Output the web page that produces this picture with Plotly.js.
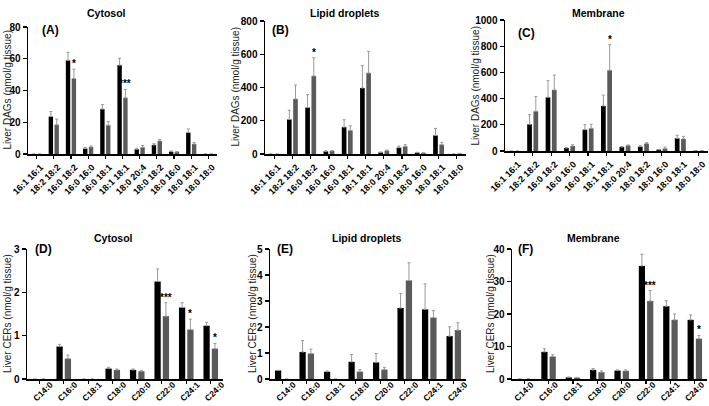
<!DOCTYPE html>
<html>
<head>
<meta charset="utf-8">
<script src="https://cdn.plot.ly/plotly-3.0.1.min.js"></script>
<style>html,body{margin:0;padding:0;background:#fff;}#chart{width:709px;height:406px;}</style>
</head>
<body>
<div id="chart"></div>
<script>
// ---------- DATA ----------
const catsDAG = ['16:1 16:1','18:2 18:2','16:0 18:2','16:0 16:0','16:0 18:1','18:1 18:1','18:0 20:4','18:0 18:2','18:0 16:0','18:0 18:1','18:0 18:0'];
const catsCER = ['C14:0','C16:0','C18:1','C18:0','C20:0','C22:0','C24:1','C24:0'];

// (A) Cytosol DAGs
const aBlack    = [0, 23.6, 59, 3.4, 28.3, 56, 3, 5.7, 1.5, 13.5, 0];
const aBlackSem = [0, 3.2, 5, 0.8, 2.9, 4.3, 0.6, 0.8, 0.4, 2.3, 0];
const aGrey     = [0, 18.4, 47.5, 4.4, 18.1, 35.4, 4.2, 8.2, 1.3, 6.3, 0];
const aGreySem  = [0, 3.6, 5.9, 0.6, 2.4, 5.3, 1.1, 1.0, 0.3, 0.9, 0];
const aSig      = ['', '', '*', '', '', '***', '', '', '', '', ''];

// (B) Lipid droplets DAGs
const bBlack    = [0, 208, 279, 16, 162, 397, 10, 38, 8, 112, 0];
const bBlackSem = [0, 55, 78, 4, 44, 136, 2, 10, 2, 42, 0];
const bGrey     = [0, 331, 469, 18, 142, 487, 20, 46, 6, 56, 3];
const bGreySem  = [0, 84, 110, 3, 28, 130, 4, 10, 2, 14, 1];
const bSig      = ['', '', '*', '', '', '', '', '', '', '', ''];

// (C) Membrane DAGs
const cBlack    = [0, 204, 410, 23, 163, 344, 31, 33, 10, 97, 2];
const cBlackSem = [0, 73, 127, 4, 38, 83, 4, 8, 2, 23, 1];
const cGrey     = [0, 303, 466, 38, 173, 616, 41, 56, 18, 92, 2];
const cGreySem  = [0, 112, 114, 10, 31, 196, 5, 8, 12, 20, 1];
const cSig      = ['', '', '', '', '', '*', '', '', '', '', ''];

// (D) Cytosol CERs
const dBlack    = [0, 0.75, 0, 0.24, 0.21, 2.25, 1.65, 1.23];
const dBlackSem = [0, 0.05, 0, 0.03, 0.02, 0.29, 0.11, 0.08];
const dGrey     = [0, 0.47, 0, 0.21, 0.18, 1.45, 1.14, 0.70];
const dGreySem  = [0, 0.08, 0, 0.02, 0.02, 0.31, 0.24, 0.12];
const dSig      = ['', '', '', '', '', '***', '*', '*'];

// (E) Lipid droplets CERs
const eBlack    = [0.33, 1.04, 0.28, 0.66, 0.64, 2.73, 2.68, 1.65];
const eBlackSem = [0, 0.44, 0.03, 0.28, 0.34, 0.56, 0.98, 0.36];
const eGrey     = [0, 0.98, 0, 0.28, 0.36, 3.79, 2.36, 1.88];
const eGreySem  = [0, 0.17, 0, 0.08, 0.09, 0.68, 0.27, 0.28];
const eSig      = ['', '', '', '', '', '', '', ''];

// (F) Membrane CERs
const fBlack    = [0, 8.35, 0.5, 2.8, 2.6, 34.8, 22.4, 18.2];
const fBlackSem = [0, 0.95, 0.1, 0.4, 0.2, 3.6, 1.7, 1.5];
const fGrey     = [0, 6.9, 0.4, 2.1, 2.5, 24, 18.2, 12.4];
const fGreySem  = [0, 0.6, 0.1, 0.4, 0.3, 3.2, 1.8, 1.0];
const fSig      = ['', '', '', '', '', '***', '', '*'];

const yTitleDAG = 'Liver DAGs (nmol/g tissue)';
const yTitleCER = 'Liver CERs (nmol/g tissue)';

// ---------- LAYOUT ----------
const W = 709, H = 406;
const BARGAP = 0.32, GROUPGAP = 0.25;
const FONT = 'Liberation Sans, Arial, sans-serif';

const panels = [
  {cats:catsDAG, b:aBlack, bs:aBlackSem, g:aGrey, gs:aGreySem, sig:aSig, x0:28, x1:217, yT:27, yB:154, range:[0,80], dtick:20,
   title:'Cytosol', tx:107, ty:13, label:'(A)', lx:40, ly:30, ytitle:yTitleDAG, ytx:7, lshift:4, lstand:0, lsize:9},
  {cats:catsDAG, b:bBlack, bs:bBlackSem, g:bGrey, gs:bGreySem, sig:bSig, x0:265, x1:466, yT:21, yB:154, range:[0,800], dtick:200,
   title:'Lipid droplets', tx:345, ty:13, label:'(B)', lx:270, ly:30, ytitle:yTitleDAG, ytx:235, lshift:4, lstand:0, lsize:9},
  {cats:catsDAG, b:cBlack, bs:cBlackSem, g:cGrey, gs:cGreySem, sig:cSig, x0:505, x1:708, yT:20, yB:151, range:[0,1000], dtick:200,
   title:'Membrane', tx:598, ty:13, label:'(C)', lx:516, ly:33, ytitle:yTitleDAG, ytx:475, lshift:4, lstand:0, lsize:9},
  {cats:catsCER, b:dBlack, bs:dBlackSem, g:dGrey, gs:dGreySem, sig:dSig, x0:27, x1:223, yT:249, yB:379, range:[0,3], dtick:1,
   title:'Cytosol', tx:113, ty:238, label:'(D)', lx:33, ly:249, ytitle:yTitleCER, ytx:7, lshift:11, lstand:-7, lsize:8.5},
  {cats:catsCER, b:eBlack, bs:eBlackSem, g:eGrey, gs:eGreySem, sig:eSig, x0:270, x1:466, yT:249, yB:379, range:[0,5], dtick:1,
   title:'Lipid droplets', tx:367, ty:238, label:'(E)', lx:275, ly:249, ytitle:yTitleCER, ytx:252, lshift:11, lstand:-7, lsize:8.5},
  {cats:catsCER, b:fBlack, bs:fBlackSem, g:fGrey, gs:fGreySem, sig:fSig, x0:512, x1:707, yT:249, yB:379, range:[0,40], dtick:10,
   title:'Membrane', tx:593, ty:238, label:'(F)', lx:516, ly:249, ytitle:yTitleCER, ytx:490, lshift:7, lstand:-7, lsize:8.5}
];

const traces = [];
const layout = {
  width: W, height: H,
  margin: {l:0, r:0, t:0, b:0},
  paper_bgcolor: '#fff', plot_bgcolor: '#fff',
  showlegend: false,
  barmode: 'group', bargap: BARGAP, bargroupgap: GROUPGAP,
  font: {family: FONT, color: '#000'},
  annotations: []
};

panels.forEach((p, i) => {
  const n = i + 1;
  const xa = 'x' + (n === 1 ? '' : n), ya = 'y' + (n === 1 ? '' : n);
  const xk = 'xaxis' + (n === 1 ? '' : n), yk = 'yaxis' + (n === 1 ? '' : n);
  const err = (arr) => ({type:'data', symmetric:false, array:arr, arrayminus:arr.map(() => 0),
                         color:'#9a9a9a', thickness:1, width:1.5});
  traces.push({type:'bar', x:p.cats, y:p.b, xaxis:xa, yaxis:ya, marker:{color:'#000'}, error_y:err(p.bs), hoverinfo:'none'});
  traces.push({type:'bar', x:p.cats, y:p.g, xaxis:xa, yaxis:ya, marker:{color:'#5a5a5a'}, error_y:err(p.gs), hoverinfo:'none'});

  layout[xk] = {
    domain:[p.x0 / W, p.x1 / W], anchor: ya, type:'category',
    range:[-0.5, p.cats.length - 0.5],
    showline:true, linecolor:'#000', linewidth:1.5, mirror:false,
    ticks:'outside', ticklen:3, tickwidth:1.2, tickcolor:'#000',
    tickangle:-45, tickfont:{size:p.lsize, family:FONT, weight:'bold', color:'#000'},
    ticklabelshift:p.lshift, ticklabelstandoff:p.lstand,
    showgrid:false, zeroline:false, fixedrange:true
  };
  layout[yk] = {
    domain:[1 - p.yB / H, 1 - p.yT / H], anchor: xa,
    range:p.range, dtick:p.dtick, tick0:0,
    showline:true, linecolor:'#000', linewidth:1.5,
    ticks:'outside', ticklen:4, tickwidth:1.2, tickcolor:'#000',
    tickfont:{size:10, family:FONT, weight:'bold', color:'#000'},
    showgrid:false, zeroline:false, fixedrange:true
  };

  // panel title
  layout.annotations.push({xref:'paper', yref:'paper', x:p.tx / W, y:1 - p.ty / H, xanchor:'center', yanchor:'middle',
    text:'<b>' + p.title + '</b>', showarrow:false, font:{size:10.5, family:FONT, color:'#000'}});
  // panel label
  layout.annotations.push({xref:'paper', yref:'paper', x:p.lx / W, y:1 - p.ly / H, xanchor:'left', yanchor:'middle',
    text:'<b>' + p.label + '</b>', showarrow:false, font:{size:12, family:FONT, color:'#000'}});
  // y axis title
  layout.annotations.push({xref:'paper', yref:'paper', x:p.ytx / W, y:1 - ((p.yT + p.yB) / 2) / H, xanchor:'center', yanchor:'middle',
    text:p.ytitle, textangle:-90, showarrow:false, font:{size:10, family:FONT, color:'#222'}});
  // significance marks above grey bars
  const catPx = (p.x1 - p.x0) / p.cats.length;
  const shift = catPx * (1 - BARGAP) / 4;
  p.sig.forEach((s, k) => {
    if (!s) return;
    layout.annotations.push({xref:xa, yref:ya, x:p.cats[k], y:p.g[k] + p.gs[k], xshift:shift, yshift:-2,
      xanchor:'center', yanchor:'bottom', text:'<b>' + s + '</b>', showarrow:false,
      font:{size:10, family:FONT, color:'#000'}});
  });
});

Plotly.newPlot('chart', traces, layout, {staticPlot:true, displayModeBar:false});
</script>
</body>
</html>
